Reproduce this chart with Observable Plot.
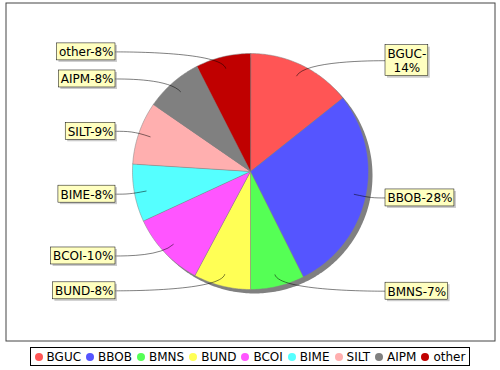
<!DOCTYPE html>
<html>
<head>
<meta charset="utf-8">
<script src="https://cdn.jsdelivr.net/npm/d3@7"></script>
<script src="https://cdn.jsdelivr.net/npm/@observablehq/plot@0.6"></script>
<style>
  html, body { margin: 0; padding: 0; background: #fff; }
  body { width: 500px; height: 370px; overflow: hidden; font-family: "DejaVu Sans", sans-serif; }
  #chart svg { display: block; }
  #legend { display: flex; justify-content: center; margin-top: 3px; }
  #legend .box { display: flex; align-items: center; height: 17px; border: 1px solid #000; padding: 0 4px; font: 12px "DejaVu Sans", sans-serif; color: #000; white-space: nowrap; }
  #legend .dot { width: 8px; height: 8px; border-radius: 50%; margin-right: 4px; flex: none; }
  #legend .item { display: flex; align-items: center; margin-right: 5px; }
  #legend .item:last-child { margin-right: 0; }
</style>
</head>
<body>
<div id="chart"></div>
<div id="legend"></div>
<script>
// ---- data ----
const categories = ["BGUC", "BBOB", "BMNS", "BUND", "BCOI", "BIME", "SILT", "AIPM", "other"];
const values = [14.3, 28.3, 7.4, 7.8, 10.3, 7.9, 8.6, 7.9, 7.5];
const colors = ["#FF5555", "#5555FF", "#55FF55", "#FFFF55", "#FF55FF", "#55FFFF", "#FFAFAF", "#808080", "#C00000"];
const wrappedLabels = ["BGUC"];

// ---- layout ----
const W = 500, H = 344;
const CX = 250, CY = 171, R = 118;
const LINK_R = 123, GAP = 12, LINK_DEPTH = 0.9;
const FONT = 12, LINE_H = 14;
const frameL = 5.5, frameR = 494.5, frameT = 2.5, frameB = 340.5;

const total = d3.sum(values);
const arcs = d3.pie().sort(null).value(d => d)(values);

// slice polygons (y up, centred on the pie)
const sliceRows = [];
arcs.forEach((a, i) => {
  const cat = categories[i];
  sliceRows.push({cat, x: 0, y: 0});
  const n = Math.max(2, Math.ceil((a.endAngle - a.startAngle) / (Math.PI / 180)));
  for (let k = 0; k <= n; k++) {
    const t = a.startAngle + (a.endAngle - a.startAngle) * k / n;
    sliceRows.push({cat, x: R * Math.sin(t), y: R * Math.cos(t)});
  }
});
const shadowRows = d3.range(0, 360, 1).map(deg => {
  const t = deg * Math.PI / 180;
  return {x: R * Math.sin(t) + 4, y: R * Math.cos(t) - 4};
});

// labels
const ctx = document.createElement("canvas").getContext("2d");
ctx.font = `${FONT}px "DejaVu Sans"`;
const labelRows = [];
const linkRows = [];
arcs.forEach((a, i) => {
  const cat = categories[i];
  const mid = (a.startAngle + a.endAngle) / 2;
  const pct = Math.round(values[i] / total * 100);
  const text = wrappedLabels.includes(cat) ? `${cat}-\n${pct}%` : `${cat}-${pct}%`;
  const lines = text.split("\n");
  const w = d3.max(lines, l => ctx.measureText(l).width) + 4;
  const h = lines.length * LINE_H + 3;
  const right = Math.sin(mid) >= 0;
  const ty = LINK_R * Math.cos(mid);
  const tx = right ? LINK_R + GAP : -(LINK_R + GAP);
  const x1 = right ? tx : tx - w, x2 = right ? tx + w : tx;
  labelRows.push({cat, text, x1, x2, y1: ty - h / 2, y2: ty + h / 2, cx: (x1 + x2) / 2, cy: ty});
  const elbowX = LINK_R * Math.sin(mid), elbowY = LINK_R * Math.cos(mid);
  const anchorX = right ? LINK_R : -LINK_R;
  linkRows.push({cat, x: tx, y: ty});
  linkRows.push({cat, x: anchorX, y: elbowY});
  linkRows.push({cat, x: elbowX, y: elbowY});
  linkRows.push({cat, x: R * LINK_DEPTH * Math.sin(mid), y: R * LINK_DEPTH * Math.cos(mid)});
});

// cubic Bezier curve through 4 control points
function cubicCurve(context) {
  let pts = [];
  return {
    areaStart() {}, areaEnd() {},
    lineStart() { pts = []; },
    point(x, y) { pts.push([+x, +y]); },
    lineEnd() {
      if (pts.length === 4) {
        context.moveTo(pts[0][0], pts[0][1]);
        context.bezierCurveTo(pts[1][0], pts[1][1], pts[2][0], pts[2][1], pts[3][0], pts[3][1]);
      } else if (pts.length) {
        context.moveTo(pts[0][0], pts[0][1]);
        for (const p of pts.slice(1)) context.lineTo(p[0], p[1]);
      }
    }
  };
}

const chart = Plot.plot({
  width: W,
  height: H,
  marginLeft: frameL,
  marginRight: W - frameR,
  marginTop: frameT,
  marginBottom: H - frameB,
  style: {fontFamily: '"DejaVu Sans", sans-serif', background: "#fff"},
  x: {domain: [frameL - CX, frameR - CX], axis: null},
  y: {domain: [CY - frameB, CY - frameT], axis: null},
  color: {domain: categories, range: colors},
  marks: [
    Plot.frame({stroke: "#444", strokeWidth: 1}),
    Plot.line(shadowRows, {x: "x", y: "y", curve: "linear-closed", fill: "#808080", stroke: "none"}),
    Plot.line(sliceRows, {x: "x", y: "y", z: "cat", fill: "cat", stroke: "#808080", strokeWidth: 0.5, curve: "linear-closed"}),
    Plot.line(linkRows, {x: "x", y: "y", z: "cat", stroke: "#000", strokeWidth: 0.5, fill: "none", curve: cubicCurve}),
    Plot.rect(labelRows, {x1: d => d.x1 + 2, x2: d => d.x2 + 2, y1: d => d.y1 - 2, y2: d => d.y2 - 2, fill: "rgba(151,151,151,0.5)"}),
    Plot.rect(labelRows, {x1: "x1", x2: "x2", y1: "y1", y2: "y2", fill: "#FFFFC0", stroke: "#000", strokeWidth: 0.5}),
    Plot.text(labelRows, {x: "cx", y: "cy", text: "text", fontSize: FONT, lineHeight: LINE_H / FONT, fill: "#000", textAnchor: "middle"})
  ]
});
document.getElementById("chart").appendChild(chart);

// legend
const box = document.createElement("div");
box.className = "box";
categories.forEach((c, i) => {
  const item = document.createElement("div");
  item.className = "item";
  const dot = document.createElement("span");
  dot.className = "dot";
  dot.style.background = colors[i];
  const lab = document.createElement("span");
  lab.textContent = c;
  item.appendChild(dot);
  item.appendChild(lab);
  box.appendChild(item);
});
document.getElementById("legend").appendChild(box);
</script>
</body>
</html>
